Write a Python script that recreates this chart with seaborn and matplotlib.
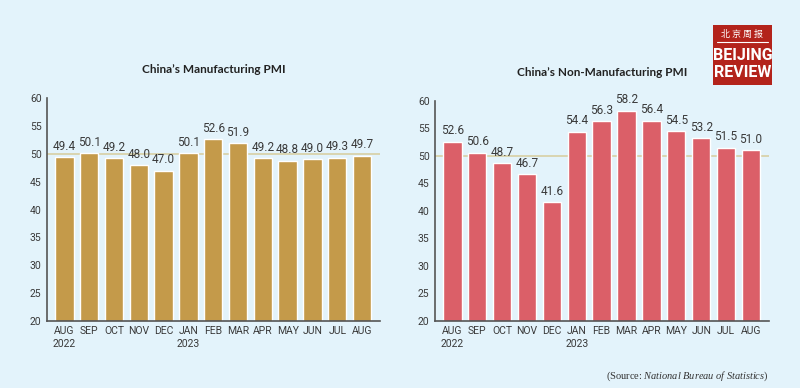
import matplotlib
matplotlib.use("Agg")
import matplotlib.pyplot as plt
import seaborn as sns
import pandas as pd
from matplotlib.patches import Rectangle

# months shown under both charts (Aug 2022 - Aug 2023)
months = ["AUG\n2022", "SEP", "OCT", "NOV", "DEC", "JAN\n2023", "FEB",
          "MAR", "APR", "MAY", "JUN", "JUL", "AUG"]
manufacturing = [49.4, 50.1, 49.2, 48.0, 47.0, 50.1, 52.6, 51.9, 49.2, 48.8, 49.0, 49.3, 49.7]
non_manufacturing = [52.6, 50.6, 48.7, 46.7, 41.6, 54.4, 56.3, 58.2, 56.4, 54.5, 53.2, 51.5, 51.0]
yticks = [20, 25, 30, 35, 40, 45, 50, 55, 60]

bg = "#E3F3FB"
text_col = "#3a3a3a"

sns.set_theme(style="white")
plt.rcParams["font.family"] = ["Roboto", "DejaVu Sans"]
plt.rcParams["mathtext.fontset"] = "custom"
plt.rcParams["mathtext.rm"] = "Liberation Serif"
plt.rcParams["mathtext.it"] = "Liberation Serif:italic"

fig = plt.figure(figsize=(8, 3.88), dpi=100, facecolor=bg)

def draw_panel(ax, values, color, title):
    df = pd.DataFrame({"month": months, "pmi": values})
    sns.barplot(data=df, x="month", y="pmi", order=months, color=color,
                saturation=1, width=0.74, ax=ax, zorder=2)
    ax.set_facecolor(bg)
    ax.set_ylim(20, 60)
    ax.set_yticks(yticks)
    ax.set_xlim(-0.69, 12.72)
    ax.axhline(50, color="#D8CFA4", lw=1.2, zorder=1)
    for i, v in enumerate(values):
        ax.text(i, v + 0.8, f"{v:.1f}", ha="center", va="bottom",
                fontsize=8.5, color=text_col)
    ax.set_xlabel("")
    ax.set_ylabel("")
    for s in ["top", "right"]:
        ax.spines[s].set_visible(False)
    for s in ["left", "bottom"]:
        ax.spines[s].set_color("#555555")
        ax.spines[s].set_linewidth(1.2)
    ax.tick_params(axis="both", length=0, labelsize=7.5, colors=text_col, pad=4)
    for lab in ax.get_xticklabels():
        lab.set_horizontalalignment("center")
        lab.set_linespacing(1.3)
    ax.set_title(title, fontsize=8.5, fontweight="bold", color="#222222", pad=18,
                 family=["Lato", "DejaVu Sans"])

ax1 = fig.add_axes([0.059, 0.173, 0.416, 0.574])
draw_panel(ax1, manufacturing, "#C49A4A", "China\u2019s Manufacturing PMI")

ax2 = fig.add_axes([0.544, 0.173, 0.417, 0.567])
draw_panel(ax2, non_manufacturing, "#DB5F68", "China\u2019s Non-Manufacturing PMI")

# logo
fig.patches.append(Rectangle((0.891, 0.781), 0.074, 0.155, transform=fig.transFigure,
                             facecolor="#B3231B", edgecolor="none", zorder=5))
fig.text(0.928, 0.912, "北 京 周 报", ha="center", va="center", color="white", fontsize=6.5,
         family=["Noto Sans CJK SC", "DejaVu Sans"], zorder=6)
fig.lines.append(plt.Line2D([0.896, 0.960], [0.891, 0.891], transform=fig.transFigure,
                            color="white", lw=0.8, zorder=6))
fig.text(0.928, 0.858, "BEIJING", ha="center", va="center", color="white", fontsize=11.5,
         fontweight="bold", zorder=6)
fig.text(0.928, 0.812, "REVIEW", ha="center", va="center", color="white", fontsize=11.5,
         fontweight="bold", zorder=6)

# source
fig.text(0.961, 0.030, "(Source: $\\it{National\\ Bureau\\ of\\ Statistics}$)", ha="right",
         va="center", fontsize=7.5, color="#333333", family="Liberation Serif")

fig.savefig("out.png", dpi=100, facecolor=bg)
